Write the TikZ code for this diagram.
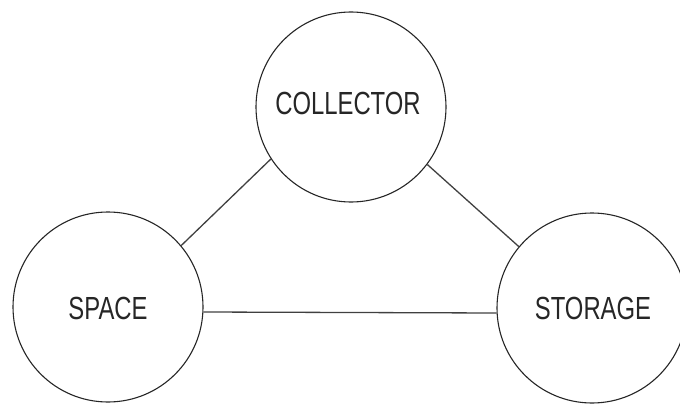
\documentclass[tikz,border=0pt]{standalone}
\usepackage{fontspec}
\newfontfamily\lblfont[FakeStretch=0.745]{Liberation Sans}
\begin{document}
\begin{tikzpicture}[x=1pt,y=-1pt,
  part/.style={circle, draw=black!85, line width=1.1pt, minimum size=190pt,
    inner sep=0pt},
  lbl/.style={inner sep=0pt, font=\lblfont\fontsize{32}{32}\selectfont, text=black!85},
  link/.style={draw=black!75, line width=1.3pt}]
  \useasboundingbox (0,0) rectangle (680,404);
  % the three parts of the system
  \node[part] (collector) at (351,107) {};
  \node[part] (space) at (108,307) {};
  \node[part] (storage) at (592,308) {};
  \node[lbl] (collectortext) at (348,103) {COLLECTOR};
  \node[lbl] (spacetext) at (108,308) {SPACE};
  \node[lbl] (storagetext) at (593,308) {STORAGE};
  % links between them
  \draw[link] (space.40) -- (collector.213);
  \draw[link] (collector.-37) -- (storage.140);
  \draw[link] (space.-3) -- (storage.183);
\end{tikzpicture}
\end{document}
